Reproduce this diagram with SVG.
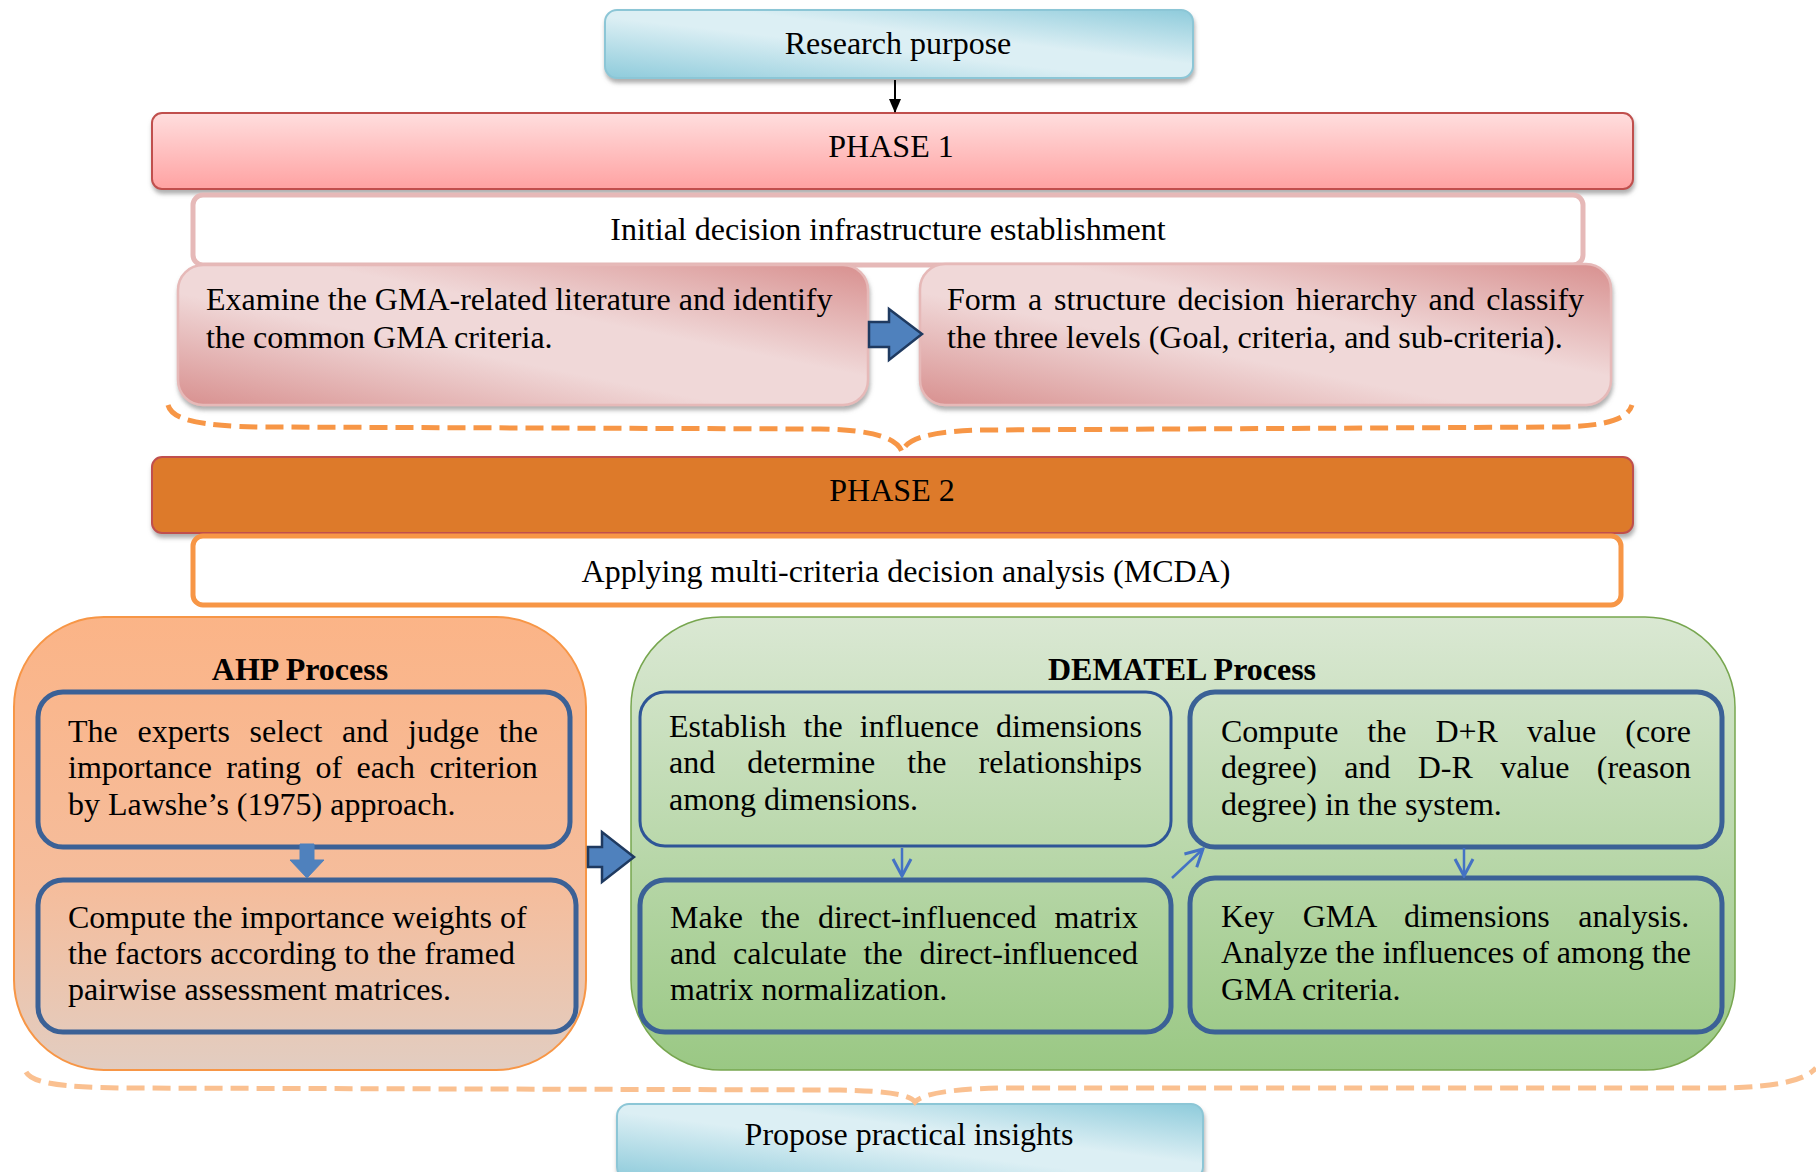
<svg xmlns="http://www.w3.org/2000/svg" width="1816" height="1172" viewBox="0 0 1816 1172">
<defs>
<style>
.t{font-family:"Liberation Serif","Times New Roman",serif;font-size:32px;fill:#000}
.c{text-anchor:middle}
.b{font-weight:bold}
.inner{fill:none;stroke:#3B6196;stroke-width:5}
.blk{fill:#4F81BD;stroke:#1F3A60;stroke-width:2.5;stroke-linejoin:miter}
.thin{fill:none;stroke:#4472C4;stroke-width:2.5}
</style>
<linearGradient id="gBlue" x1="0" y1="1" x2="1" y2="0">
<stop offset="0" stop-color="#8ECBDB"/><stop offset="0.45" stop-color="#DCEFF4"/><stop offset="0.6" stop-color="#DCEFF4"/><stop offset="1" stop-color="#8ECBDB"/>
</linearGradient>
<linearGradient id="gPh1" x1="0" y1="0" x2="0" y2="1"><stop offset="0" stop-color="#FFDEDE"/><stop offset="1" stop-color="#FFA2A2"/></linearGradient>
<linearGradient id="gPink" x1="0" y1="1" x2="1" y2="0"><stop offset="0" stop-color="#D8908F"/><stop offset="0.4" stop-color="#F0D8D8"/><stop offset="0.6" stop-color="#F0D8D8"/><stop offset="1" stop-color="#D8908F"/></linearGradient>
<linearGradient id="gAhp" x1="0" y1="0" x2="0" y2="1"><stop offset="0" stop-color="#FBB487"/><stop offset="0.6" stop-color="#F5BD9C"/><stop offset="1" stop-color="#E2CDC1"/></linearGradient>
<linearGradient id="gDem" x1="0" y1="0" x2="0" y2="1"><stop offset="0" stop-color="#DAE8D3"/><stop offset="1" stop-color="#9AC884"/></linearGradient>
<filter id="sh" x="-5%" y="-10%" width="110%" height="140%"><feDropShadow dx="1" dy="4" stdDeviation="2" flood-color="#7A7A7A" flood-opacity="0.6"/></filter>
<marker id="mBlk" markerUnits="userSpaceOnUse" markerWidth="14" markerHeight="14" viewBox="0 0 14 14" refX="13" refY="7" orient="auto"><path d="M0,1 L14,7 L0,13 Z" fill="#000"/></marker>
<marker id="mOpen" markerUnits="userSpaceOnUse" markerWidth="22" markerHeight="22" viewBox="0 0 22 22" refX="20" refY="11" orient="auto"><path d="M3,2 L20,11 L3,20" fill="none" stroke="#4472C4" stroke-width="3"/></marker>
</defs>
<rect width="1816" height="1172" fill="#FFFFFF"/>

<g id="research">
<rect x="605" y="10" width="588" height="68" rx="12" fill="url(#gBlue)" stroke="#8CC6D6" stroke-width="2" filter="url(#sh)"/>
<text class="t c" x="898" y="54">Research purpose</text>
</g>

<g id="phase1">
<rect x="152" y="113" width="1481" height="76" rx="10" fill="url(#gPh1)" stroke="#C0504D" stroke-width="2" filter="url(#sh)"/>
<text class="t c" x="891" y="157">PHASE 1</text>
</g>

<g id="initial">
<rect x="193" y="195" width="1390" height="70" rx="10" fill="#FFFFFF" stroke="#E6B9B8" stroke-width="5"/>
<text class="t c" x="888" y="240">Initial decision infrastructure establishment</text>
</g>

<g id="examine">
<rect x="178" y="265" width="690" height="140" rx="25" fill="url(#gPink)" stroke="#E6B9B8" stroke-width="2.5" filter="url(#sh)"/>
<text class="t" x="206" y="310">Examine the GMA-related literature and identify</text>
<text class="t" x="206" y="348">the common GMA criteria.</text>
</g>

<g id="form">
<rect x="920" y="264" width="691" height="141" rx="25" fill="url(#gPink)" stroke="#E6B9B8" stroke-width="2.5" filter="url(#sh)"/>
<text class="t" x="947" y="310" word-spacing="3.7">Form a structure decision hierarchy and classify</text>
<text class="t" x="947" y="348">the three levels (Goal, criteria, and sub-criteria).</text>
</g>

<g id="phase2">
<rect x="152" y="457" width="1481" height="76" rx="10" fill="#DD7A2B" stroke="#C0504D" stroke-width="2" filter="url(#sh)"/>
<text class="t c" x="892" y="501">PHASE 2</text>
</g>

<g id="mcda">
<rect x="193" y="536" width="1428" height="69" rx="10" fill="#FFFFFF" stroke="#F79646" stroke-width="5"/>
<text class="t c" x="906" y="582">Applying multi-criteria decision analysis (MCDA)</text>
</g>

<g id="ahp">
<rect x="14" y="617" width="572" height="453" rx="90" fill="url(#gAhp)" stroke="#F79646" stroke-width="2"/>
<text class="t c b" x="300" y="680">AHP Process</text>
</g>

<g id="ahp1">
<rect x="38" y="692" width="532" height="155" rx="25" class="inner"/>
<text class="t" x="68" y="742" word-spacing="11.7">The experts select and judge the</text>
<text class="t" x="68" y="778" word-spacing="6.4">importance rating of each criterion</text>
<text class="t" x="68" y="815">by Lawshe’s (1975) approach.</text>
</g>

<g id="ahp2">
<rect x="38" y="880" width="538" height="152" rx="25" class="inner"/>
<text class="t" x="68" y="928">Compute the importance weights of</text>
<text class="t" x="68" y="964">the factors according to the framed</text>
<text class="t" x="68" y="1000">pairwise assessment matrices.</text>
</g>

<g id="dematel">
<rect x="631" y="617" width="1104" height="453" rx="90" fill="url(#gDem)" stroke="#77A64F" stroke-width="1.5"/>
<text class="t c b" x="1182" y="680">DEMATEL Process</text>
</g>

<g id="dem1">
<rect x="640" y="692" width="531" height="154" rx="25" fill="none" stroke="#2E5597" stroke-width="3"/>
<text class="t" x="669" y="737" word-spacing="9.2">Establish the influence dimensions</text>
<text class="t" x="669" y="773" word-spacing="24.1">and determine the relationships</text>
<text class="t" x="669" y="810">among dimensions.</text>
</g>

<g id="dem2">
<rect x="1190" y="692" width="532" height="155" rx="25" class="inner"/>
<text class="t" x="1221" y="742" word-spacing="21">Compute the D+R value (core</text>
<text class="t" x="1221" y="778" word-spacing="19.3">degree) and D-R value (reason</text>
<text class="t" x="1221" y="815">degree) in the system.</text>
</g>

<g id="dem3">
<rect x="640" y="880" width="531" height="152" rx="25" class="inner"/>
<text class="t" x="670" y="928" word-spacing="10">Make the direct-influenced matrix</text>
<text class="t" x="670" y="964" word-spacing="8.8">and calculate the direct-influenced</text>
<text class="t" x="670" y="1000">matrix normalization.</text>
</g>

<g id="dem4">
<rect x="1190" y="878" width="532" height="154" rx="25" class="inner"/>
<text class="t" x="1221" y="927" word-spacing="20.4">Key GMA dimensions analysis.</text>
<text class="t" x="1221" y="963">Analyze the influences of among the</text>
<text class="t" x="1221" y="1000">GMA criteria.</text>
</g>

<g id="propose">
<rect x="617" y="1104" width="586" height="75" rx="12" fill="url(#gBlue)" stroke="#8CC6D6" stroke-width="2" filter="url(#sh)"/>
<text class="t c" x="909" y="1145">Propose practical insights</text>
</g>

<g id="connectors">
<line x1="895" y1="80" x2="895" y2="112" stroke="#000" stroke-width="2" marker-end="url(#mBlk)"/>
<polygon class="blk" points="869,322 889,322 889,309 922,334 889,360 889,347 869,347"/>
<path d="M168,405 C172,420 200,426 260,427 L820,429 C880,430 898,440 902,452 C906,440 925,431 985,430 L1560,427 C1610,426 1628,418 1632,405" fill="none" stroke="#F79646" stroke-width="5" stroke-dasharray="18 8"/>
<polygon points="300,844 314,844 314,860 324,860 307,878 290,860 300,860" fill="#4F81BD" stroke="#4F81BD" stroke-width="1"/>
<polygon class="blk" points="588,847 602,847 602,832 634,857 602,882 602,867 588,867"/>
<line class="thin" x1="902" y1="848" x2="902" y2="876" marker-end="url(#mOpen)"/>
<line class="thin" x1="1172" y1="878" x2="1203" y2="849" marker-end="url(#mOpen)"/>
<line class="thin" x1="1464" y1="848" x2="1464" y2="876" marker-end="url(#mOpen)"/>
<path d="M26,1072 C32,1083 60,1087 120,1088 L840,1090 C890,1091 910,1095 915,1102 C921,1095 945,1089 1000,1088 L1720,1088 C1780,1087 1805,1080 1816,1068" fill="none" stroke="#FAC090" stroke-width="5" stroke-dasharray="18 8"/>
</g>
</svg>
